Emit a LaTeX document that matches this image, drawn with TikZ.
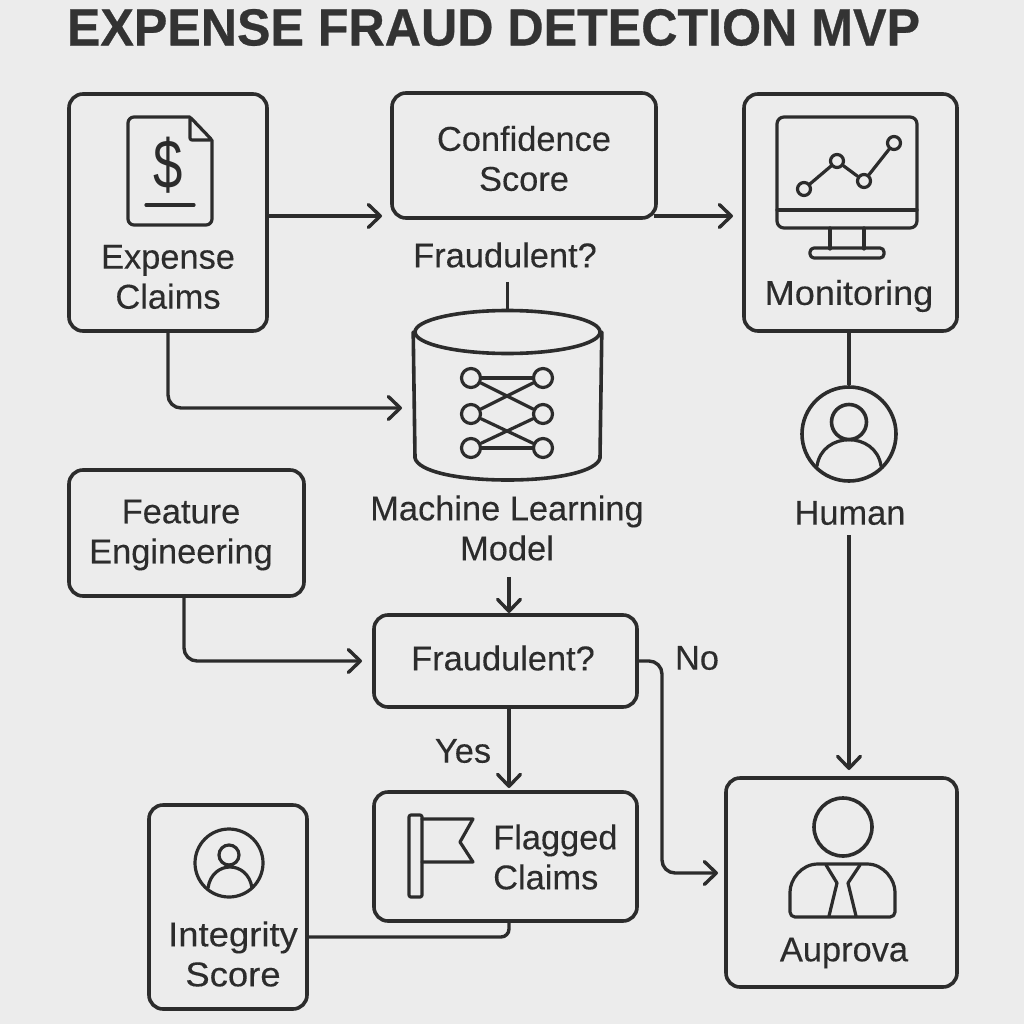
\documentclass[tikz,border=0pt]{standalone}
\usepackage{fontspec}
\setmainfont[FakeBold=0.25]{Liberation Sans}
\newfontfamily\titlefont[FakeBold=0.6]{Liberation Sans Bold}
\newfontfamily\signfont{Liberation Sans}
\usetikzlibrary{arrows.meta,positioning,shapes.geometric}
\definecolor{inkcol}{HTML}{2C2C2C}
\definecolor{bgcol}{HTML}{ECECEC}

\begin{document}
\begin{tikzpicture}[
            x=1pt,
            y=-1pt,
            box/.style={
                draw=inkcol,
                line width=3.6pt,
                rounded corners=14pt,
                inner sep=0pt
            },
            lbl/.style={
                inner sep=0pt,
                align=center,
                font=\fontsize{34.4}{40}\selectfont,
                text=inkcol
            },
            link/.style={
                draw=inkcol,
                line width=3.4pt,
                rounded corners=13pt
            },
            arrow/.style={
                link,
                -{Straight Barb[length=12pt,width=23pt,round]}
            },
            icon/.style={
                draw=inkcol,
                line width=3.2pt,
                line join=round,
                line cap=round
            },
            ring/.style={
                icon,
                circle,
                inner sep=0pt
            }
        ]

            % Background and page size
            \fill[bgcol] (0,0) rectangle (1024,1024);
            \useasboundingbox (0,0) rectangle (1024,1024);

            % Title
            \node[text=black!80,inner sep=0pt,xscale=0.965,font=\fontsize{52}{56}\titlefont] (title) at (493.5,27.5) {EXPENSE FRAUD DETECTION MVP};

            % Boxes
            \node[box,minimum width=198pt,minimum height=237pt] (claims) at (168,212.5) {};
            \node[box,minimum width=264pt,minimum height=125pt] (score) at (524,155.5) {};
            \node[box,minimum width=213pt,minimum height=237pt] (monitor) at (850.5,212.5) {};
            \node[box,minimum width=235pt,minimum height=126pt] (feature) at (186.5,533) {};
            \node[box,minimum width=263pt,minimum height=92pt] (fraud) at (505.5,661) {};
            \node[box,minimum width=263pt,minimum height=129pt] (flagged) at (505.5,856.5) {};
            \node[box,minimum width=158pt,minimum height=204pt] (integrity) at (228,907) {};
            \node[box,minimum width=231pt,minimum height=209pt] (approve) at (841.5,882.5) {};

            % Model cylinder
            \node[icon,line width=3.6pt,ellipse,inner sep=0pt,minimum width=185pt,minimum height=43pt] (model) at (507.5,332) {};
            \draw[icon,line width=3.6pt] (model.west) -- (415,458) .. controls (418,471) and (456,480) .. (507.5,480)
                .. controls (559,480) and (597,471) .. (600,458) -- (model.east);

            % Human circle
            \node[ring,line width=3.6pt,minimum size=94pt] (human) at (849,434) {};

            % Labels
            \node[lbl] (claimstxt) at (168,277) {Expense\\Claims};
            \node[lbl] (scoretxt) at (524,158.5) {Confidence\\Score};
            \node[lbl,xscale=1.05] (monitortxt) at (849,296) {Monitoring};
            \node[lbl] (featuretxt) at (181,535) {Feature\\Engineering};
            \node[lbl] (fraudq) at (505,255) {Fraudulent?};
            \node[lbl] (modeltxt) at (507,528) {Machine Learning\\Model};
            \node[lbl] (frauda) at (503,658) {Fraudulent?};
            \node[lbl] (humantxt) at (850,513) {Human};
            \node[lbl] (yestxt) at (463,751) {Yes};
            \node[lbl] (notxt) at (697,658) {No};
            \node[lbl,align=left,anchor=west] (flaggedtxt) at (493,857) {Flagged\\Claims};
            \node[lbl,xscale=1.06] (integritytxt) at (233,954) {Integrity\\Score};
            \node[lbl] (approvetxt) at (844,953) {Auprova};

            % Free arrow ends
            \coordinate (scorein) at (382,216);
            \coordinate (monitorin) at (733,216);
            \coordinate (modelin) at (402,408);
            \coordinate (fraudin) at (362,661);
            \coordinate (fraudtop) at (509,613);
            \coordinate (flaggedtop) at (509,788);
            \coordinate (approvein) at (718,873);
            \coordinate (approvetop) at (849,770);

            % Connectors
            \draw[arrow] (claims.east |- scorein) -- (scorein);
            \draw[arrow] ([xshift=-4pt]score.east |- monitorin) -- (monitorin);
            \draw[arrow] (claims.south) -- (claims.south |- modelin) -- (modelin);
            \draw[link] ([yshift=-14pt]fraudq.south -| model.north) -- (model.north);
            \draw[arrow] ([yshift=-16pt]modeltxt.south -| fraudtop) -- (fraudtop);
            \draw[arrow] (feature.south -| 184,0) -- (184,661) -- (fraudin);
            \draw[arrow] (fraud.east) -- (662,661) -- (662,873) -- (approvein);
            \draw[arrow] (fraud.south -| flaggedtop) -- (flaggedtop);
            \draw[link,rounded corners=8pt] (flagged.south -| flaggedtop) -- (509,937) -- (integrity.east |- 0,937);
            \draw[link] (monitor.south -| human.north) -- (human.north);
            \draw[arrow] ([yshift=-10pt]humantxt.south -| approvetop) -- (approvetop);

            % Expense document icon
            \draw[icon,rounded corners=6pt] (190,117) -- (128,117) -- (128,225) -- (212,225) -- (212,140);
            \draw[icon,rounded corners=2pt] (190,117) -- (190,140) -- (212,140) -- cycle;
            \draw[icon] (146,205) -- (194,205);
            \node[inner sep=0pt,text=inkcol,xscale=0.85,yscale=1.12,font=\fontsize{62}{62}\signfont] (dollar) at (168.5,165) {\$};

            % Network inside the cylinder
            \foreach \i/\y in {1/378,2/414,3/448} {
                \node[ring,minimum size=19pt] (nl\i) at (471,\y) {};
                \node[ring,minimum size=19pt] (nr\i) at (543,\y) {};
            }
            \foreach \a/\b in {1/1,1/2,2/1,2/3,3/2,3/3} {
                \draw[icon] (nl\a) -- (nr\b);
            }

            % Monitor icon
            \draw[icon,rounded corners=7pt] (777,117) rectangle (917,228);
            \draw[icon] (777,210) -- (917,210);
            \draw[icon] (830,228) -- (830,249);
            \draw[icon] (864,228) -- (864,249);
            \draw[icon,rounded corners=4pt] (810,248) rectangle (884,258);
            \foreach \i/\px/\py in {1/804/189,2/837/161,3/864/181,4/894/143} {
                \node[ring,minimum size=13pt] (pt\i) at (\px,\py) {};
            }
            \foreach \a/\b in {1/2,2/3,3/4} {
                \draw[icon] (pt\a) -- (pt\b);
            }

            % Human icon
            \node[ring,line width=3.6pt,minimum size=35pt] (humanhead) at (849,422) {};
            \draw[icon] (817,466) .. controls (822,431) and (876,431) .. (881,466);

            % Flag icon
            \draw[icon,rounded corners=2pt] (409,815) rectangle (422,897);
            \draw[icon] (422,819) -- (473,819) -- (460,842) -- (473,862) -- (422,862);

            % Integrity icon
            \node[ring,minimum size=68pt] (integrityring) at (229,863) {};
            \node[ring,minimum size=20pt] (integrityhead) at (229,855) {};
            \draw[icon] (208,888) .. controls (212,860) and (248,860) .. (252,888);

            % Approver icon
            \node[ring,line width=3.6pt,minimum size=58pt] (approvehead) at (843,827) {};
            \draw[icon,rounded corners=5pt] (843,864) -- (862,864) .. controls (884,864) and (895,880) .. (895,897) -- (895,917) -- (790,917) -- (790,897) .. controls (790,880) and (801,864) .. (823,864) -- cycle;
            \draw[icon] (826,865) -- (837,883) -- (829,916);
            \draw[icon] (860,865) -- (848,883) -- (856,916);

        \end{tikzpicture}
\end{document}
